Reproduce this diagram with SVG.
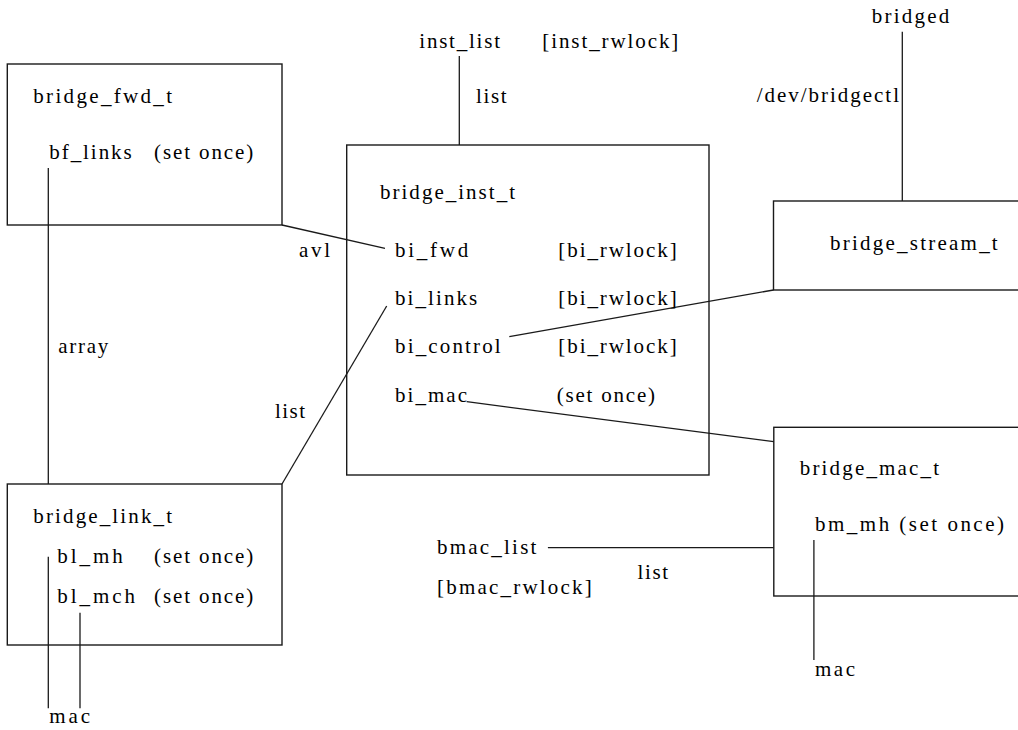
<svg xmlns="http://www.w3.org/2000/svg" width="1018" height="730" viewBox="0 0 1018 730">
<style>
text{font-family:Liberation Serif,DejaVu Serif,Times,serif;font-size:21px;fill:#000;}
.box{fill:none;stroke:#1a1a1a;stroke-width:1.4;}
.ln{fill:none;stroke:#1a1a1a;stroke-width:1.3;}
</style>
<rect width="1018" height="730" fill="#fff"/>
<g id="connectors">
<line class="ln" x1="459.3" y1="56" x2="459.3" y2="145"/>
<line class="ln" x1="902.3" y1="31.7" x2="902.3" y2="201"/>
<line class="ln" x1="282" y1="225" x2="385" y2="248.3"/>
<line class="ln" x1="48.3" y1="168" x2="48.3" y2="484"/>
<line class="ln" x1="386.7" y1="306" x2="282" y2="484"/>
<line class="ln" x1="509.3" y1="336.7" x2="773.5" y2="290"/>
<line class="ln" x1="466.7" y1="401.7" x2="773.8" y2="441.7"/>
<line class="ln" x1="547.9" y1="547.7" x2="773.8" y2="547.7"/>
<line class="ln" x1="813.9" y1="540" x2="813.9" y2="660"/>
<line class="ln" x1="48.3" y1="556.7" x2="48.3" y2="708.3"/>
<line class="ln" x1="80" y1="612.7" x2="80" y2="708.3"/>
<text x="299" y="256.7" textLength="31" lengthAdjust="spacing">avl</text>
<text x="58.3" y="353.3" textLength="50" lengthAdjust="spacing">array</text>
<text x="275" y="418.3" textLength="30" lengthAdjust="spacing">list</text>
<text x="476" y="103.3" textLength="30.7" lengthAdjust="spacing">list</text>
<text x="637.6" y="579" textLength="30.4" lengthAdjust="spacing">list</text>
<text x="756.7" y="101.7" textLength="142.3" lengthAdjust="spacing">/dev/bridgectl</text>
</g>
<g id="inst_list">
<text x="419.3" y="47.7" textLength="80.7" lengthAdjust="spacing">inst_list</text>
<text x="542.3" y="47.7" textLength="136" lengthAdjust="spacing">[inst_rwlock]</text>
</g>
<g id="bridged">
<text x="871.7" y="22.7" textLength="77.6" lengthAdjust="spacing">bridged</text>
</g>
<g id="bridge_fwd_t">
<rect class="box" x="7.3" y="64" width="274.7" height="161"/>
<text x="33.3" y="103.3" textLength="138.7" lengthAdjust="spacing">bridge_fwd_t</text>
<text x="49.3" y="159.3" textLength="82.4" lengthAdjust="spacing">bf_links</text>
<text x="154" y="159.3" textLength="99.3" lengthAdjust="spacing">(set once)</text>
</g>
<g id="bridge_inst_t">
<rect class="box" x="346.7" y="145" width="362.3" height="330"/>
<text x="380" y="199" textLength="135" lengthAdjust="spacing">bridge_inst_t</text>
<text x="395" y="256.7" textLength="73.3" lengthAdjust="spacing">bi_fwd</text>
<text x="558.3" y="256.7" textLength="118.4" lengthAdjust="spacing">[bi_rwlock]</text>
<text x="395" y="305" textLength="82.3" lengthAdjust="spacing">bi_links</text>
<text x="558.3" y="305" textLength="118.4" lengthAdjust="spacing">[bi_rwlock]</text>
<text x="395" y="353.3" textLength="105.7" lengthAdjust="spacing">bi_control</text>
<text x="558.3" y="353.3" textLength="118.4" lengthAdjust="spacing">[bi_rwlock]</text>
<text x="395" y="401.7" textLength="72" lengthAdjust="spacing">bi_mac</text>
<text x="556.7" y="401.7" textLength="98.3" lengthAdjust="spacing">(set once)</text>
</g>
<g id="bridge_stream_t">
<rect class="box" x="773.5" y="201" width="260" height="89"/>
<text x="830" y="250" textLength="167.7" lengthAdjust="spacing">bridge_stream_t</text>
</g>
<g id="bridge_link_t">
<rect class="box" x="7.3" y="484" width="274.7" height="161"/>
<text x="33.3" y="523.3" textLength="138.7" lengthAdjust="spacing">bridge_link_t</text>
<text x="57.3" y="562.7" textLength="65.4" lengthAdjust="spacing">bl_mh</text>
<text x="154" y="562.7" textLength="99.3" lengthAdjust="spacing">(set once)</text>
<text x="57.3" y="602.7" textLength="77.7" lengthAdjust="spacing">bl_mch</text>
<text x="154" y="602.7" textLength="99.3" lengthAdjust="spacing">(set once)</text>
</g>
<g id="mac_link">
<text x="49.3" y="723.3" textLength="40.7" lengthAdjust="spacing">mac</text>
</g>
<g id="bridge_mac_t">
<rect class="box" x="773.8" y="427.3" width="260" height="168.7"/>
<text x="799.8" y="475" textLength="139.2" lengthAdjust="spacing">bridge_mac_t</text>
<text x="815" y="531" textLength="189" lengthAdjust="spacing">bm_mh (set once)</text>
</g>
<g id="mac_bm">
<text x="815" y="676" textLength="40" lengthAdjust="spacing">mac</text>
</g>
<g id="bmac_list">
<text x="437" y="554.3" textLength="99.4" lengthAdjust="spacing">bmac_list</text>
<text x="437" y="594.3" textLength="154.8" lengthAdjust="spacing">[bmac_rwlock]</text>
</g>
</svg>
